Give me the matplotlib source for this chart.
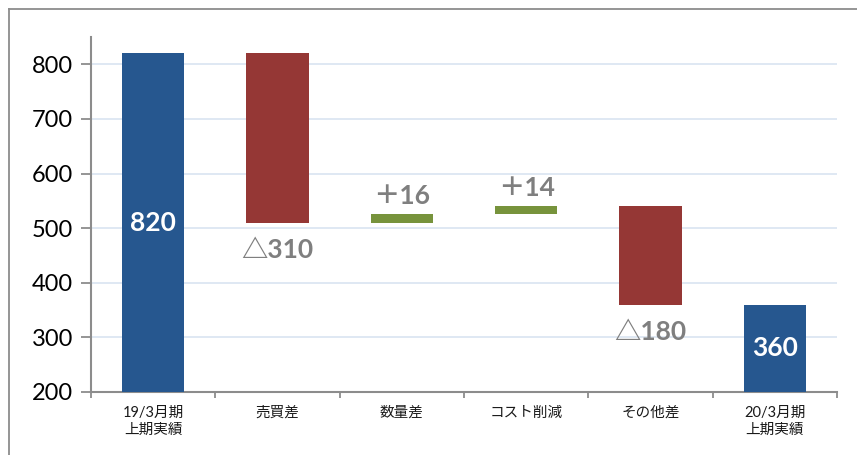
import matplotlib
matplotlib.use('Agg')
import matplotlib.pyplot as plt
from matplotlib.lines import Line2D
import numpy as np

plt.rcParams['font.family'] = ['Lato', 'Noto Sans CJK JP', 'DejaVu Sans']

categories = ['19/3月期\n上期実績', '売買差', '数量差', 'コスト削減', 'その他差', '20/3月期\n上期実績']
start_value = 820
changes = [-310, 16, 14, -180]
end_value = 360
change_labels = ['△310', '＋16', '＋14', '△180']
yticks = [200, 300, 400, 500, 600, 700, 800]

blue = '#26578f'
red = '#953735'
green = '#77933c'
gray_txt = '#7f7f7f'

# waterfall levels
levels = [start_value]
for c in changes:
    levels.append(levels[-1] + c)

fig = plt.figure(figsize=(8.57, 4.55), dpi=100)
ax = fig.add_axes([0.1062, 0.1385, 0.8705, 0.7802])

x = np.arange(len(categories))
w = 0.5

ax.bar(x[0], start_value, width=w, color=blue, zorder=3)
ax.bar(x[-1], end_value, width=w, color=blue, zorder=3)
for i, c in enumerate(changes):
    lo = min(levels[i], levels[i + 1])
    col = green if c > 0 else red
    ax.bar(x[i + 1], abs(c), bottom=lo, width=w, color=col, zorder=3)

# labels
ax.text(x[0], (200 + start_value) / 2, str(start_value), color='white', fontsize=19,
        fontweight='bold', ha='center', va='center', zorder=4)
ax.text(x[-1], (200 + end_value) / 2, str(end_value), color='white', fontsize=19,
        fontweight='bold', ha='center', va='center', zorder=4)
for i, c in enumerate(changes):
    if c > 0:
        y = max(levels[i], levels[i + 1])
        off = 13
    else:
        y = min(levels[i], levels[i + 1])
        off = -20
    ax.annotate(change_labels[i], (x[i + 1], y), xytext=(0, off), textcoords='offset points',
                ha='center', va='center', fontsize=19, fontweight='bold', color=gray_txt, zorder=4)

ax.set_xlim(-0.5, len(categories) - 0.5)
ax.set_ylim(200, 850)
ax.set_yticks(yticks)
ax.yaxis.grid(True, color='#dce6f2', linewidth=1.3, zorder=0)
ax.set_axisbelow(True)

ax.set_xticks(x)
ax.set_xticklabels(categories, fontsize=10.5, color='#1a1a1a', linespacing=1.3)
ax.set_xticks(np.arange(len(categories) + 1) - 0.5, minor=True)
ax.tick_params(axis='x', which='major', length=0, pad=10)
ax.tick_params(axis='x', which='minor', length=4, width=1.3, color='#8c8c8c', direction='out')
ax.tick_params(axis='y', length=7, width=1.3, color='#8c8c8c', labelsize=17, pad=6)

for s in ['top', 'right']:
    ax.spines[s].set_visible(False)
for s in ['left', 'bottom']:
    ax.spines[s].set_color('#8c8c8c')
    ax.spines[s].set_linewidth(1.5)

# outer chart frame
fx0 = 9 / 857
fy1 = 1 - 9 / 455
fig.add_artist(Line2D([fx0, fx0], [0, fy1], transform=fig.transFigure, color='#8c8c8c', lw=1.3))
fig.add_artist(Line2D([fx0, 1], [fy1, fy1], transform=fig.transFigure, color='#8c8c8c', lw=1.3))

fig.savefig('out.png', dpi=100)
